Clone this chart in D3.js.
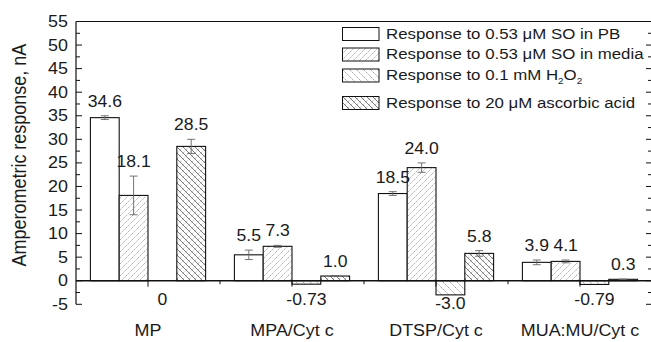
<!DOCTYPE html>
<html>
<head>
<meta charset="utf-8">
<script src="https://cdn.jsdelivr.net/npm/d3@7"></script>
<style>
  html, body { margin: 0; padding: 0; background: #fff; }
  svg { display: block; }
  text { font-family: "Liberation Sans", Arial, sans-serif; fill: #1a1a1a; }
</style>
</head>
<body>
<svg id="chart" width="651" height="342"></svg>
<script>
// Electrode types along the x axis
const categories = ["MP", "MPA/Cyt c", "DTSP/Cyt c", "MUA:MU/Cyt c"];

// Series names (legend)
const seriesNames = [
  "Response to 0.53 μM SO in PB",
  "Response to 0.53 μM SO in media",
  "Response to 0.1 mM H2O2",
  "Response to 20 μM ascorbic acid"
];

// Amperometric responses, nA (one array per series, in category order)
const soInPB     = [34.6, 5.5, 18.5, 3.9];
const soInMedia  = [18.1, 7.3, 24.0, 4.1];
const h2o2       = [0, -0.73, -3.0, -0.79];
const ascorbic   = [28.5, 1.0, 5.8, 0.3];

// Standard deviations (error bars)
const soInPBErr    = [0.4, 1.0, 0.4, 0.5];
const soInMediaErr = [4.1, 0.2, 1.0, 0.3];
const h2o2Err      = [0, 0, 0, 0];
const ascorbicErr  = [1.5, 0.1, 0.6, 0.05];

// Printed value labels
const soInPBLabels    = ["34.6", "5.5", "18.5", "3.9"];
const soInMediaLabels = ["18.1", "7.3", "24.0", "4.1"];
const h2o2Labels      = ["0", "-0.73", "-3.0", "-0.79"];
const ascorbicLabels  = ["28.5", "1.0", "5.8", "0.3"];

// Y axis ticks
const yTicks = [-5, 0, 5, 10, 15, 20, 25, 30, 35, 40, 45, 50, 55];

const seriesValues = [soInPB, soInMedia, h2o2, ascorbic];
const seriesErrors = [soInPBErr, soInMediaErr, h2o2Err, ascorbicErr];
const seriesLabels = [soInPBLabels, soInMediaLabels, h2o2Labels, ascorbicLabels];

const svg = d3.select("#chart");
const SX = 1.1;           // horizontal stretch applied to all lettering

const plot = { left: 76, right: 652, top: 21.5, bottom: 304.3 };

const x = d3.scaleLinear().domain([0.5, categories.length + 0.5]).range([plot.left, plot.right]);
const y = d3.scaleLinear().domain([-5, 55]).range([plot.bottom, plot.top]);
const barW = 0.2; // in category units

// place a horizontally stretched text element
function label(g, tx, ty, str, anchor, size, rotate) {
  const t = g.append("text")
    .attr("transform", `translate(${tx},${ty}) scale(${SX},1)` + (rotate ? ` rotate(${rotate})` : ""))
    .attr("text-anchor", anchor || "middle")
    .attr("font-size", size);
  return t.text(str);
}

// ---- hatch patterns ----
const defs = svg.append("defs");
function hatch(id, w, build) {
  const p = defs.append("pattern").attr("id", id)
    .attr("patternUnits", "userSpaceOnUse").attr("width", w).attr("height", w);
  p.append("rect").attr("width", w).attr("height", w).attr("fill", "#fff");
  build(p);
}
// light forward slashes
hatch("pMedia", 6, p => {
  p.append("path").attr("d", "M0,6 L6,0 M-1,1 L1,-1 M5,7 L7,5")
    .attr("stroke", "#a8a8a8").attr("stroke-width", 0.9).attr("stroke-dasharray", "2,1");
});
// light back slashes
hatch("pH2O2", 7, p => {
  p.append("path").attr("d", "M0,0 L7,7 M-1,6 L1,8 M6,-1 L8,1")
    .attr("stroke", "#9a9a9a").attr("stroke-width", 0.9).attr("stroke-dasharray", "2,1");
});
// back slashes over dotted forward slashes (cross hatch)
hatch("pAsc", 6, p => {
  p.append("path").attr("d", "M0,6 L6,0 M-1,1 L1,-1 M5,7 L7,5")
    .attr("stroke", "#999").attr("stroke-width", 0.8).attr("stroke-dasharray", "1,1.2");
  p.append("path").attr("d", "M0,0 L6,6 M-1,5 L1,7 M5,-1 L7,1")
    .attr("stroke", "#5a5a5a").attr("stroke-width", 0.8);
});
const fills = ["#fff", "url(#pMedia)", "url(#pH2O2)", "url(#pAsc)"];

// ---- bars ----
const gBars = svg.append("g");
seriesValues.forEach((vals, s) => {
  vals.forEach((v, i) => {
    const x0 = x(i + 1 - 2 * barW + s * barW);
    const x1 = x(i + 1 - 2 * barW + (s + 1) * barW);
    const y0 = y(Math.max(v, 0)), y1 = y(Math.min(v, 0));
    if (y1 - y0 < 0.01) return;
    gBars.append("rect")
      .attr("x", x0).attr("y", y0).attr("width", x1 - x0).attr("height", y1 - y0)
      .attr("fill", fills[s]).attr("stroke", "#111").attr("stroke-width", 1.1);
  });
});

// ---- error bars ----
const gErr = svg.append("g").attr("stroke", "#666").attr("stroke-width", 0.9);
seriesValues.forEach((vals, s) => {
  vals.forEach((v, i) => {
    const e = seriesErrors[s][i];
    if (!e) return;
    const cx = x(i + 1 - 2 * barW + (s + 0.5) * barW);
    gErr.append("line").attr("x1", cx).attr("x2", cx).attr("y1", y(v - e)).attr("y2", y(v + e));
    [v - e, v + e].forEach(t => gErr.append("line")
      .attr("x1", cx - 4).attr("x2", cx + 4).attr("y1", y(t)).attr("y2", y(t)));
  });
});

// ---- value labels ----
const gLab = svg.append("g");
seriesValues.forEach((vals, s) => {
  vals.forEach((v, i) => {
    const cx = x(i + 1 - 2 * barW + (s + 0.5) * barW);
    const e = seriesErrors[s][i];
    let by;
    if (v > 0) by = y(v + e) - 9;
    else by = Math.max(y(v) + 14.5, y(0) + 24.5);
    label(gLab, cx, by, seriesLabels[s][i], "middle", 16);
  });
});

// ---- axes / frame ----
const gAx = svg.append("g").attr("stroke", "#111").attr("fill", "none");
gAx.append("line").attr("x1", plot.left).attr("x2", plot.left).attr("y1", plot.top).attr("y2", plot.bottom).attr("stroke-width", 1.2);
gAx.append("line").attr("x1", plot.left).attr("x2", plot.right).attr("y1", plot.top).attr("y2", plot.top).attr("stroke-width", 1.2);
gAx.append("line").attr("x1", plot.right).attr("x2", plot.right).attr("y1", plot.top).attr("y2", plot.bottom).attr("stroke-width", 1.2);
gAx.append("line").attr("x1", plot.left).attr("x2", plot.right).attr("y1", y(0)).attr("y2", y(0)).attr("stroke-width", 1.3);

// y ticks (major inward, minor halfway)
const minorY = d3.range(-5, 55, 2.5).filter(v => v % 5 !== 0);
yTicks.forEach(v => {
  gAx.append("line").attr("x1", plot.left).attr("x2", plot.left + 6).attr("y1", y(v)).attr("y2", y(v));
  gAx.append("line").attr("x1", plot.right).attr("x2", plot.right - 6).attr("y1", y(v)).attr("y2", y(v));
});
minorY.forEach(v => {
  gAx.append("line").attr("x1", plot.left).attr("x2", plot.left + 4).attr("y1", y(v)).attr("y2", y(v));
  gAx.append("line").attr("x1", plot.right).attr("x2", plot.right - 4).attr("y1", y(v)).attr("y2", y(v));
});
const gYl = svg.append("g");
yTicks.forEach(v => label(gYl, plot.left - 8, y(v) + 5.5, String(v), "end", 16.3));

// x ticks: major at categories, minor between
categories.forEach((c, i) => {
  gAx.append("line").attr("x1", x(i + 1)).attr("x2", x(i + 1)).attr("y1", y(0)).attr("y2", y(0) + 6);
  if (i < categories.length - 1)
    gAx.append("line").attr("x1", x(i + 1.5)).attr("x2", x(i + 1.5)).attr("y1", y(0)).attr("y2", y(0) + 3.5);
});
const gXl = svg.append("g");
categories.forEach((c, i) => label(gXl, x(i + 1), 335.5, c, "middle", 16.3));

// y title
label(svg, 26, (plot.top + y(0)) / 2 + 4, "Amperometric response, nA", "middle", 18, -90);

// ---- legend ----
const gLeg = svg.append("g");
const legBase = [38.5, 59, 80, 107.5];
seriesNames.forEach((n, s) => {
  const b = legBase[s];
  gLeg.append("rect").attr("x", 342.5).attr("y", b - 11).attr("width", 36.5).attr("height", 13)
    .attr("fill", fills[s]).attr("stroke", "#111").attr("stroke-width", 1);
  const t = label(gLeg, 386, b, "", "start", 15.3);
  if (n.includes("H2O2")) {
    t.append("tspan").text("Response to 0.1 mM H");
    t.append("tspan").text("2").attr("font-size", 9).attr("dy", 4);
    t.append("tspan").text("O").attr("dy", -4);
    t.append("tspan").text("2").attr("font-size", 9).attr("dy", 4);
  } else {
    t.text(n);
  }
});
</script>
</body>
</html>
